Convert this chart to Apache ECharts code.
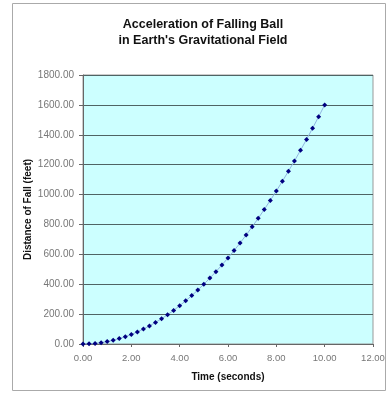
<!DOCTYPE html>
<html><head><meta charset="utf-8">
<script src="https://cdn.jsdelivr.net/npm/echarts@6/dist/echarts.min.js"></script>
<style>html,body{margin:0;padding:0;background:#fff}#c{width:390px;height:394px}</style>
</head><body><div id="c"></div>
<script>
var timeSeconds = [0, 0.25, 0.5, 0.75, 1, 1.25, 1.5, 1.75, 2, 2.25, 2.5, 2.75, 3, 3.25, 3.5, 3.75, 4, 4.25, 4.5, 4.75, 5, 5.25, 5.5, 5.75, 6, 6.25, 6.5, 6.75, 7, 7.25, 7.5, 7.75, 8, 8.25, 8.5, 8.75, 9, 9.25, 9.5, 9.75, 10];
var distanceFeet = [0, 1, 4, 9, 16, 25, 36, 49, 64, 81, 100, 121, 144, 169, 196, 225, 256, 289, 324, 361, 400, 441, 484, 529, 576, 625, 676, 729, 784, 841, 900, 961, 1024, 1089, 1156, 1225, 1296, 1369, 1444, 1521, 1600];
var titleLines = ["Acceleration of Falling Ball", "in Earth's Gravitational Field"];
var xName = "Time (seconds)";
var yName = "Distance of Fall (feet)";

var pts = timeSeconds.map(function(t, i){ return [t, distanceFeet[i]]; });
var chart = echarts.init(document.getElementById('c'));
chart.setOption({
  animation: false,
  backgroundColor: '#fff',
  title: {
    text: titleLines.join('\n'),
    left: 198, top: 12, textAlign: 'center',
    textStyle: {fontFamily: 'Liberation Sans, Arial', fontSize: 12.5, fontWeight: 'bold', color: '#111', lineHeight: 16}
  },
  graphic: [
    {type: 'rect', shape: {x: 12.5, y: 3.5, width: 373, height: 387}, style: {fill: 'none', stroke: '#aaa', lineWidth: 1}, z: -1}
  ],
  grid: {left: 83, top: 75, width: 290, height: 269, show: true, backgroundColor: '#ccffff', borderColor: '#999', borderWidth: 1},
  xAxis: {
    type: 'value', min: 0, max: 12, interval: 2,
    name: xName, nameLocation: 'middle', nameGap: 28, nameMoveOverlap: false,
    nameTextStyle: {fontFamily: 'Liberation Sans, Arial', fontSize: 10, fontWeight: 'bold', color: '#111'},
    axisLine: {show: true, lineStyle: {color: '#666', width: 1}},
    axisTick: {show: true, length: 3, lineStyle: {color: '#666'}},
    axisLabel: {formatter: function(v){ return v.toFixed(2); }, fontFamily: 'Liberation Sans, Arial', fontSize: 9.5, color: '#777', margin: 9},
    splitLine: {show: false}
  },
  yAxis: {
    type: 'value', min: 0, max: 1800, interval: 200,
    name: yName, nameLocation: 'middle', nameGap: 50, nameRotate: 90, nameMoveOverlap: false,
    nameTextStyle: {fontFamily: 'Liberation Sans, Arial', fontSize: 10, fontWeight: 'bold', color: '#111'},
    axisLine: {show: true, lineStyle: {color: '#666', width: 1}},
    axisTick: {show: true, length: 4, lineStyle: {color: '#666'}},
    axisLabel: {formatter: function(v){ return v.toFixed(2); }, fontFamily: 'Liberation Sans, Arial', fontSize: 10, color: '#777', margin: 9},
    splitLine: {show: true, lineStyle: {color: '#4f6464', width: 1}}
  },
  series: [{
    type: 'line', data: pts,
    symbol: 'diamond', symbolSize: 5, showAllSymbol: true,
    itemStyle: {color: '#000080'},
    lineStyle: {color: '#8fb4e0', width: 1}
  }]
});
</script></body></html>
